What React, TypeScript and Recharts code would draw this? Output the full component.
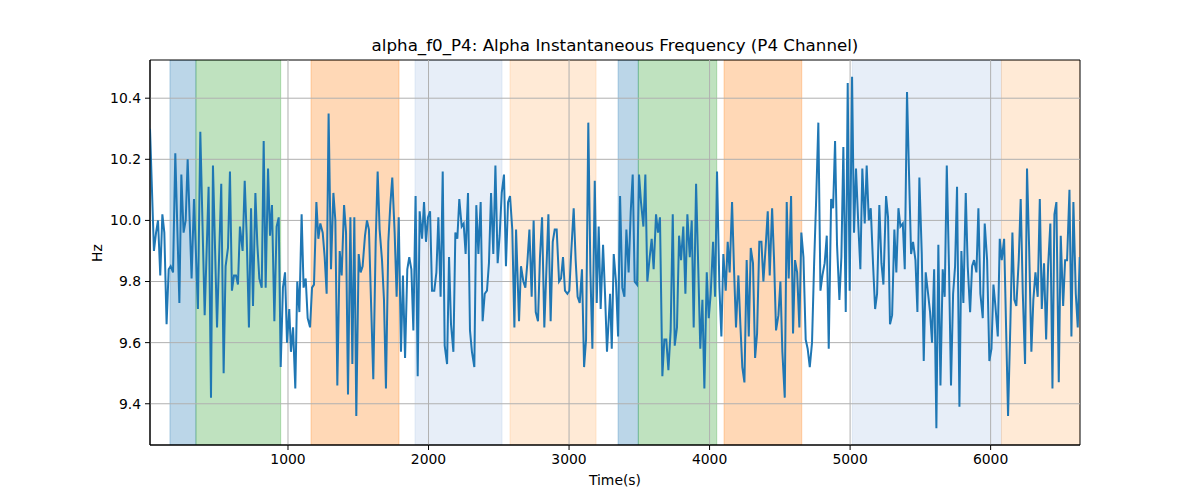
import React from 'react';
import { ComposedChart, Line, XAxis, YAxis, ReferenceArea, ReferenceLine } from 'recharts';

const TITLE = 'alpha_f0_P4: Alpha Instantaneous Frequency (P4 Channel)';
const X_LABEL = 'Time(s)';
const Y_LABEL = 'Hz';

const xTicks = [1000, 2000, 3000, 4000, 5000, 6000];
const yTicks = [9.4, 9.6, 9.8, 10.0, 10.2, 10.4];
const xDomain = [18, 6636];
const yDomain = [9.265, 10.525];

// [start, end, colour] of shaded stages
const bandStarts = [160, 345, 1164, 1904, 2580, 3349, 3493, 4103, 5016, 6077];
const bandEnds = [345, 948, 1790, 2523, 3192, 3493, 4051, 4656, 6077, 6636];
const bandColors = ['#1f77b4', '#2ca02c', '#ff7f0e', '#aec7e8', '#ffbb78', '#1f77b4', '#2ca02c', '#ff7f0e', '#aec7e8', '#ffbb78'];

const seg1 = [[18,10.30],[46,9.90],[61,9.96],[75,10.0],[91,9.82],[106,10.02],[120,9.96],[136,9.66],[151,9.84],[165,9.85],[182,9.83],[198,10.22],[227,9.73],[241,10.15],[257,9.96],[272,10.0],[286,10.2],[314,9.81],[331,10.07],[359,9.71],[376,10.29],[407,9.69],[435,10.11],[452,9.42],[466,10.18],[495,9.65],[525,10.12],[542,9.50],[556,9.85],[573,9.91],[587,10.16],[601,9.77],[616,9.82],[630,9.82],[644,9.79]];
const seg2 = [[658,9.98],[677,9.90],[692,10.13],[706,9.95],[722,9.65],[737,10.04],[751,9.72],[768,10.09],[782,9.92],[796,9.81],[813,9.78],[827,10.26],[841,9.78],[858,10.17],[872,9.95],[886,10.05],[903,9.67],[919,9.98],[934,10.01],[948,9.52],[964,9.78],[979,9.83],[993,9.60],[1009,9.71],[1021,9.57],[1036,9.65],[1052,9.45],[1066,9.80],[1081,9.70],[1097,10.02],[1111,9.78],[1126,9.81],[1140,9.68],[1157,9.65],[1171,9.78],[1185,9.79],[1202,10.06],[1216,9.94],[1230,9.99],[1247,9.96],[1261,9.88],[1275,9.76],[1289,10.35],[1306,9.84]];
const seg3 = [[1323,10.09],[1337,10.0],[1351,9.46],[1368,9.90],[1382,9.82],[1399,10.05],[1413,9.96],[1427,9.43],[1444,10.01],[1458,9.53],[1472,10.01],[1486,9.36],[1503,9.89],[1517,9.83],[1531,9.85],[1548,9.95],[1562,10.0],[1576,9.97],[1593,9.70],[1607,9.48],[1624,9.93],[1638,10.16],[1652,9.97],[1669,9.87],[1683,9.74],[1697,9.45],[1714,9.93],[1728,10.05],[1742,10.14],[1759,9.96],[1773,9.75],[1788,10.01],[1804,9.57],[1818,9.82],[1833,9.55],[1849,9.84],[1863,9.88],[1878,9.84],[1892,9.64],[1908,10.08],[1923,9.49],[1937,10.03],[1954,9.94]];
const seg4 = [[1968,10.06],[1982,9.93],[1996,10.01],[2011,10.03],[2025,9.77],[2041,9.77],[2056,9.83],[2070,10.01],[2086,9.75],[2101,10.16],[2115,9.59],[2132,9.53],[2146,9.88],[2160,9.66],[2177,9.57],[2191,9.96],[2205,9.94],[2219,10.07],[2236,9.98],[2250,9.99],[2264,9.89],[2281,10.09],[2295,9.64],[2309,9.57],[2326,9.52],[2340,10.05],[2355,9.89],[2371,10.06],[2385,9.67],[2400,9.76],[2416,9.77],[2430,9.86],[2445,10.09],[2461,9.89],[2476,10.18],[2492,9.86],[2506,9.95],[2521,10.09],[2537,10.15],[2551,9.85],[2566,10.06],[2580,10.08],[2596,9.97],[2611,9.65]];
const seg5 = [[2623,9.97],[2644,9.67],[2658,9.85],[2675,9.80],[2689,9.78],[2703,9.86],[2718,9.97],[2734,9.75],[2748,10.0],[2763,9.70],[2779,9.67],[2793,9.88],[2808,10.01],[2824,9.65],[2839,9.84],[2853,10.02],[2869,9.67],[2884,9.93],[2898,9.97],[2912,9.97],[2929,9.80],[2943,9.81],[2957,9.88],[2971,9.77],[2988,9.76],[3002,9.77],[3016,9.90],[3033,10.04],[3047,9.87],[3061,9.75],[3076,9.73],[3092,9.84],[3107,9.52],[3121,9.61],[3137,10.32],[3152,9.83],[3166,9.58],[3183,10.13],[3197,9.73],[3211,9.98],[3225,9.71],[3242,9.92],[3256,9.76],[3270,9.57]];
const seg6 = [[3292,9.76],[3304,9.58],[3318,9.89],[3334,9.80],[3349,9.62],[3363,10.08],[3379,9.78],[3394,9.75],[3408,9.97],[3424,9.83],[3439,10.03],[3453,10.15],[3467,9.80],[3484,9.79],[3498,10.15],[3512,10.06],[3529,9.98],[3543,10.15],[3557,9.80],[3574,9.88],[3588,9.94],[3602,9.84],[3619,10.02],[3633,9.96],[3647,10.01],[3664,9.49],[3678,9.61],[3692,9.61],[3707,9.51],[3723,9.64],[3738,10.02],[3752,9.59],[3768,9.65],[3783,9.95],[3797,9.87],[3813,9.98],[3828,9.76],[3842,10.02],[3859,9.88],[3873,10.0],[3887,9.65],[3904,10.12],[3918,9.87]];
const seg7 = [[3934,9.58],[3949,9.74],[3963,9.45],[3980,9.83],[3994,9.68],[4008,9.76],[4025,9.93],[4039,9.75],[4053,10.16],[4070,9.78],[4084,9.62],[4098,9.89],[4115,9.77],[4129,9.93],[4143,9.83],[4160,10.06],[4174,9.84],[4188,9.65],[4205,9.82],[4219,9.66],[4233,9.52],[4248,9.47],[4264,9.87],[4279,9.62],[4293,9.91],[4309,9.86],[4324,9.55],[4338,9.63],[4354,9.93],[4369,9.93],[4383,9.80],[4400,9.92],[4414,10.03],[4428,9.82],[4445,10.04],[4459,9.87],[4473,9.64],[4490,9.69],[4504,9.80],[4518,9.57],[4535,9.42],[4549,10.06],[4563,9.81],[4580,10.08]];
const seg8 = [[4594,9.63],[4608,9.87],[4623,9.83],[4639,9.65],[4653,9.96],[4668,9.88],[4684,9.61],[4698,9.58],[4713,9.52],[4729,9.60],[4744,9.86],[4758,10.06],[4774,10.32],[4789,9.77],[4803,9.82],[4819,9.86],[4834,9.95],[4848,9.58],[4865,10.07],[4879,10.04],[4893,10.26],[4907,9.92],[4924,9.74],[4938,9.88],[4952,10.24],[4969,9.70],[4983,10.45],[4997,9.77],[5014,10.47],[5028,9.96],[5042,10.17],[5059,9.98],[5073,9.84],[5087,10.17],[5104,9.99],[5118,10.18],[5133,10.0],[5147,10.04],[5163,9.86],[5178,9.71],[5192,9.76],[5208,10.05],[5223,9.86],[5237,9.79]];
const seg9 = [[5256,10.08],[5270,10.01],[5284,9.66],[5299,9.69],[5315,9.97],[5329,9.83],[5344,10.04],[5358,9.98],[5375,9.99],[5389,9.84],[5405,10.42],[5420,10.14],[5434,9.89],[5448,9.93],[5465,9.87],[5479,9.70],[5493,10.14],[5510,9.89],[5524,9.54],[5538,9.83],[5555,9.76],[5569,9.70],[5583,9.60],[5598,9.84],[5614,9.32],[5628,9.92],[5643,9.46],[5659,9.84],[5673,9.75],[5688,10.18],[5704,9.84],[5718,9.46],[5733,9.76],[5747,9.85],[5761,10.11],[5778,9.39],[5792,9.90],[5806,9.73],[5823,10.09],[5837,9.85],[5854,9.70],[5868,9.85],[5882,9.87],[5899,9.83]];
const seg10 = [[5913,10.04],[5927,9.76],[5944,9.68],[5958,9.99],[5975,9.87],[5991,9.54],[6006,9.58],[6020,9.79],[6034,9.72],[6051,9.62],[6065,9.94],[6079,9.87],[6096,9.94],[6110,9.65],[6124,9.36],[6141,9.67],[6155,9.96],[6169,9.74],[6183,9.72],[6200,9.87],[6214,10.07],[6229,9.76],[6245,9.53],[6259,10.17],[6274,9.91],[6290,9.57],[6304,9.74],[6319,9.83],[6335,9.75],[6350,10.07],[6364,9.71],[6380,9.86],[6395,9.61],[6409,9.85],[6425,9.99],[6440,9.45],[6454,10.02],[6468,10.06],[6485,9.47],[6499,9.95],[6516,9.72],[6530,9.87],[6544,9.87],[6561,10.10],[6575,9.62],[6589,10.06],[6606,9.76],[6620,9.65],[6634,9.88]];

const data = [seg1, seg2, seg3, seg4, seg5, seg6, seg7, seg8, seg9, seg10]
  .flat()
  .map(([t, v]) => ({ t, v }));

const FONT = '"DejaVu Sans", sans-serif';
const GRID = '#b0b0b0';

export default function App() {
  return (
    <div style={{ position: 'absolute', left: 0, top: 0, width: 1200, height: 500, background: '#fff', fontFamily: FONT }}>
      <ComposedChart
        width={1200}
        height={500}
        data={data}
        margin={{ top: 60, right: 120, bottom: 25, left: 90 }}
      >
        <XAxis
          dataKey="t"
          type="number"
          domain={xDomain}
          ticks={xTicks}
          allowDataOverflow
          height={30}
          tickSize={5}
          tickMargin={4}
          axisLine={{ stroke: '#000', strokeWidth: 1 }}
          tickLine={{ stroke: '#000' }}
          tick={{ fill: '#000', fontSize: 13.9, fontFamily: FONT }}
        />
        <YAxis
          type="number"
          domain={yDomain}
          ticks={yTicks}
          allowDataOverflow
          width={60}
          tickSize={5}
          tickMargin={4}
          tickFormatter={(v: number) => v.toFixed(1)}
          axisLine={{ stroke: '#000', strokeWidth: 1 }}
          tickLine={{ stroke: '#000' }}
          tick={{ fill: '#000', fontSize: 13.9, fontFamily: FONT }}
        />
        {bandStarts.map((s, i) => (
          <ReferenceArea
            key={'b' + i}
            x1={s}
            x2={bandEnds[i]}
            fill={bandColors[i]}
            fillOpacity={0.3}
            stroke={bandColors[i]}
            strokeOpacity={0.3}
            ifOverflow="hidden"
          />
        ))}
        {xTicks.map((x) => (
          <ReferenceLine key={'gx' + x} x={x} stroke={GRID} strokeWidth={1} />
        ))}
        {yTicks.map((y) => (
          <ReferenceLine key={'gy' + y} y={y} stroke={GRID} strokeWidth={1} />
        ))}
        <Line
          type="linear"
          dataKey="v"
          stroke="#1f77b4"
          strokeWidth={2}
          dot={false}
          activeDot={false}
          isAnimationActive={false}
        />
        <ReferenceArea
          x1={xDomain[0]}
          x2={xDomain[1]}
          y1={yDomain[0]}
          y2={yDomain[1]}
          fill="none"
          stroke="#000"
          strokeWidth={1}
          ifOverflow="visible"
        />
      </ComposedChart>
      <div style={{ position: 'absolute', left: 150, width: 930, top: 35, textAlign: 'center', fontSize: 16.7, color: '#000', whiteSpace: 'nowrap' }}>
        {TITLE}
      </div>
      <div style={{ position: 'absolute', left: 150, width: 930, top: 472, textAlign: 'center', fontSize: 13.9, color: '#000' }}>
        {X_LABEL}
      </div>
      <div style={{ position: 'absolute', left: 97, top: 253, transform: 'translate(-50%, -50%) rotate(-90deg)', fontSize: 13.9, color: '#000' }}>
        {Y_LABEL}
      </div>
    </div>
  );
}
